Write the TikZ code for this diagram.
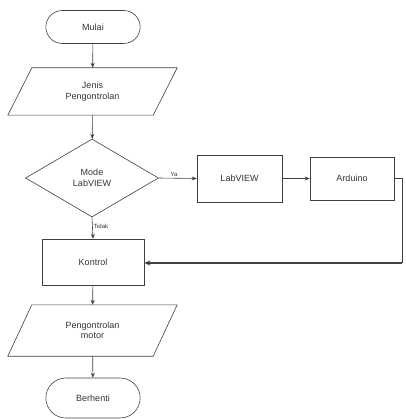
\documentclass[tikz,border=0pt]{standalone}
\usepackage{fontspec}
\setmainfont{Liberation Sans}
\usetikzlibrary{shapes.geometric,shapes.misc,arrows.meta}
\begin{document}
\begin{tikzpicture}[x=1pt,y=-1pt,
  line/.style={draw=black!75, line width=0.6pt},
  arr/.style={line, -{Stealth[length=5pt,width=4pt]}},
  term/.style={line, rounded rectangle, minimum width=101pt, minimum height=33pt, font=\fontsize{9}{10}\selectfont, text=black!80},
  pbox/.style={inner sep=0pt, minimum width=169pt, minimum height=47pt, align=center, font=\fontsize{9}{10.5}\selectfont, text=black!80},
  proc/.style={line, rectangle, align=center, font=\fontsize{9}{10}\selectfont, text=black!80},
  dec/.style={line, diamond, aspect=1.7, minimum width=133pt, minimum height=78pt, inner sep=0pt, align=center, font=\fontsize{9}{10.5}\selectfont, text=black!80},
  lbl/.style={font=\fontsize{6}{7}\selectfont, text=black!80, inner sep=1pt}
]
\useasboundingbox (0,0) rectangle (405,419);
\node[term] (mulai) at (93,27) {Mulai};
\node[pbox] (jenis) at (92.5,91.5) {Jenis\\Pengontrolan};
\draw[line] ([xshift=24pt]jenis.north west) -- (jenis.north east) -- ([xshift=-24pt]jenis.south east) -- (jenis.south west) -- cycle;
\node[dec] (mode) at (92,178) {Mode\\LabVIEW};
\node[proc, minimum width=85pt, minimum height=47pt] (lab) at (239.5,178.5) {LabVIEW};
\node[proc, minimum width=84pt, minimum height=43pt] (ard) at (352,178.5) {Arduino};
\node[proc, minimum width=102pt, minimum height=46pt] (kon) at (93,262) {Kontrol};
\node[pbox, minimum height=51pt] (peng) at (92.5,330.5) {Pengontrolan\\motor};
\draw[line] ([xshift=24pt]peng.north west) -- (peng.north east) -- ([xshift=-24pt]peng.south east) -- (peng.south west) -- cycle;
\node[term, minimum height=40pt] (stop) at (93,398) {Berhenti};
\coordinate (c1) at (402,178.5);
\coordinate (c2) at (402,263);
\draw[arr] (mulai) -- (jenis);
\draw[arr] (jenis) -- (mode);
\draw[arr] (mode.east) -- node[lbl, above, pos=0.4] {Ya} (lab.west);
\draw[arr] (lab) -- (ard);
\draw[arr] (mode.south) -- node[lbl, right, pos=0.4] {Tidak} (kon.north);
\draw[line] (ard.east) -- (c1) -- (c2);
\draw[line, line width=1.3pt, -{Stealth[length=6pt,width=5pt]}] (c2) -- (kon.east |- c2);
\draw[arr] (kon) -- (peng);
\draw[arr] (peng) -- (stop);
\end{tikzpicture}
\end{document}
